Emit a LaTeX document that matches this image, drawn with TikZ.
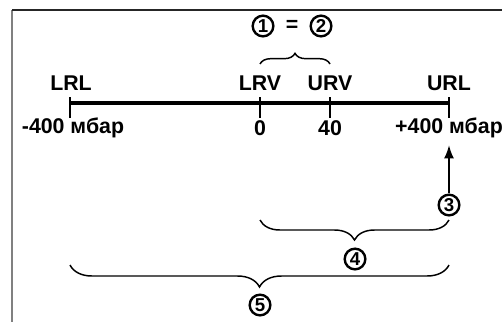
\documentclass[tikz,border=0pt]{standalone}
\usepackage{fontspec}
\setmainfont{Liberation Sans}
\usetikzlibrary{arrows.meta,decorations.pathreplacing}

\tikzset{
	lbl/.style={font=\bfseries\fontsize{16}{18}\selectfont,inner sep=0pt},
	num/.style={circle,draw,line width=1.8pt,minimum size=15.5pt,inner sep=0pt,
		font=\bfseries\fontsize{14}{15}\selectfont},
	brc/.style={decorate,decoration={brace,amplitude=#1},line width=1.1pt},
}

\begin{document}
\begin{tikzpicture}[>={Latex[length=10pt,width=7.5pt]},x=0.75pt,y=-0.75pt]
\useasboundingbox (0,0) rectangle (502,322);

\draw[color=gray,line width=1.5pt] (12,10)--(12,322);
\draw[color=black!85,line width=1.5pt] (12,10)--(502,10);

\draw[line width=2.6pt] (70,103)--(449,103);
\foreach \x in {70,260,330,449}{
	\draw[line width=0.9pt] (\x,97)--(\x,118);
}

\node[lbl] (lrl) at (71,83) {LRL};
\node[lbl] (lrv) at (260,83) {LRV};
\node[lbl] (urv) at (330,83) {URV};
\node[lbl] (url) at (449,83) {URL};

\node[lbl] (vmin) at (73,128) {-400 мбар};
\node[lbl] (vzero) at (260,128) {0};
\node[lbl] (vurv) at (330,128) {40};
\node[lbl] (vmax) at (449,128) {+400 мбар};

\draw[brc=8pt] (260,64)--(330,64);
\node[num] (n1) at (263,26) {1};
\node[lbl] (eq) at (292,26) {=};
\node[num] (n2) at (321,26) {2};

\coordinate (tip) at (449,145);
\node[num] (n3) at (449,205) {3};
\draw[->,line width=1.5pt] (n3)--(tip);

\draw[brc=15pt] (449,220)--(260,220);
\node[num] (n4) at (355,259) {4};

\draw[brc=16.5pt] (449,265)--(70,265);
\node[num] (n5) at (260,305) {5};

\end{tikzpicture}
\end{document}
